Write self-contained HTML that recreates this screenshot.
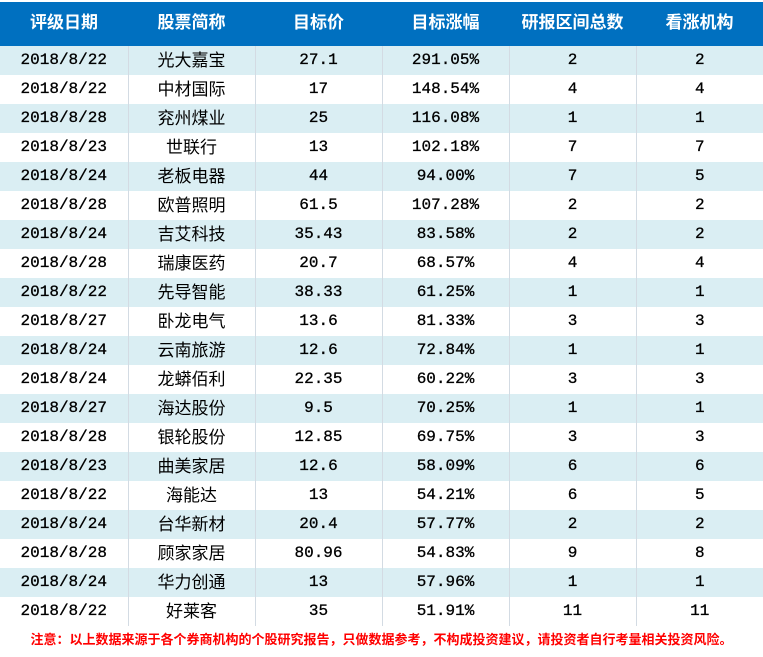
<!DOCTYPE html>
<html><head><meta charset="utf-8"><style>
body{margin:0;background:#fff;width:763px;height:657px;overflow:hidden;position:relative}
table{position:absolute;left:0;top:2px;border-collapse:collapse;table-layout:fixed;width:763px}
td{padding:0;text-align:center;border-right:1px solid #d3dbe3;height:29px;line-height:29px;font-family:"Liberation Mono","Noto Sans CJK SC",monospace;font-size:16px;font-weight:normal;color:#000;-webkit-text-stroke:0.3px #000}
td:last-child{border-right:none}
tr.h td{background:#0070C0;color:#fff;-webkit-text-stroke:0;height:44px;line-height:44px;font-family:"Liberation Sans","Noto Sans CJK SC",sans-serif;font-weight:bold;font-size:17px;border-right:none}
tr.h td span{position:relative;top:-1px}
tr.a td{background:#DAEEF3}
td.n{font-family:"Liberation Sans","Noto Sans CJK SC",sans-serif;font-size:17px;-webkit-text-stroke:0}
td.n span{position:relative;top:0}
.note{position:absolute;left:0;top:626px;width:763px;text-align:center;color:#f00;font-weight:bold;font-size:13px;font-family:"Liberation Sans","Noto Sans CJK SC",sans-serif;line-height:28px}
</style></head><body>
<table>
<colgroup><col style="width:128px"><col style="width:127px"><col style="width:127px"><col style="width:127px"><col style="width:127px"><col style="width:127px"></colgroup>
<tr class="h"><td><span>评级日期</span></td><td><span>股票简称</span></td><td><span>目标价</span></td><td><span>目标涨幅</span></td><td><span>研报区间总数</span></td><td><span>看涨机构</span></td></tr>
<tr class="a"><td>2018/8/22</td><td class="n"><span>光大嘉宝</span></td><td>27.1</td><td>291.05%</td><td>2</td><td>2</td></tr>
<tr><td>2018/8/22</td><td class="n"><span>中材国际</span></td><td>17</td><td>148.54%</td><td>4</td><td>4</td></tr>
<tr class="a"><td>2018/8/28</td><td class="n"><span>兖州煤业</span></td><td>25</td><td>116.08%</td><td>1</td><td>1</td></tr>
<tr><td>2018/8/23</td><td class="n"><span>世联行</span></td><td>13</td><td>102.18%</td><td>7</td><td>7</td></tr>
<tr class="a"><td>2018/8/24</td><td class="n"><span>老板电器</span></td><td>44</td><td>94.00%</td><td>7</td><td>5</td></tr>
<tr><td>2018/8/28</td><td class="n"><span>欧普照明</span></td><td>61.5</td><td>107.28%</td><td>2</td><td>2</td></tr>
<tr class="a"><td>2018/8/24</td><td class="n"><span>吉艾科技</span></td><td>35.43</td><td>83.58%</td><td>2</td><td>2</td></tr>
<tr><td>2018/8/28</td><td class="n"><span>瑞康医药</span></td><td>20.7</td><td>68.57%</td><td>4</td><td>4</td></tr>
<tr class="a"><td>2018/8/22</td><td class="n"><span>先导智能</span></td><td>38.33</td><td>61.25%</td><td>1</td><td>1</td></tr>
<tr><td>2018/8/27</td><td class="n"><span>卧龙电气</span></td><td>13.6</td><td>81.33%</td><td>3</td><td>3</td></tr>
<tr class="a"><td>2018/8/24</td><td class="n"><span>云南旅游</span></td><td>12.6</td><td>72.84%</td><td>1</td><td>1</td></tr>
<tr><td>2018/8/24</td><td class="n"><span>龙蟒佰利</span></td><td>22.35</td><td>60.22%</td><td>3</td><td>3</td></tr>
<tr class="a"><td>2018/8/27</td><td class="n"><span>海达股份</span></td><td>9.5</td><td>70.25%</td><td>1</td><td>1</td></tr>
<tr><td>2018/8/28</td><td class="n"><span>银轮股份</span></td><td>12.85</td><td>69.75%</td><td>3</td><td>3</td></tr>
<tr class="a"><td>2018/8/23</td><td class="n"><span>曲美家居</span></td><td>12.6</td><td>58.09%</td><td>6</td><td>6</td></tr>
<tr><td>2018/8/22</td><td class="n"><span>海能达</span></td><td>13</td><td>54.21%</td><td>6</td><td>5</td></tr>
<tr class="a"><td>2018/8/24</td><td class="n"><span>台华新材</span></td><td>20.4</td><td>57.77%</td><td>2</td><td>2</td></tr>
<tr><td>2018/8/28</td><td class="n"><span>顾家家居</span></td><td>80.96</td><td>54.83%</td><td>9</td><td>8</td></tr>
<tr class="a"><td>2018/8/24</td><td class="n"><span>华力创通</span></td><td>13</td><td>57.96%</td><td>1</td><td>1</td></tr>
<tr><td>2018/8/22</td><td class="n"><span>好莱客</span></td><td>35</td><td>51.91%</td><td>11</td><td>11</td></tr>
</table>
<div class="note">注意：以上数据来源于各个券商机构的个股研究报告，只做数据参考，不构成投资建议，请投资者自行考量相关投资风险。</div>
</body></html>
